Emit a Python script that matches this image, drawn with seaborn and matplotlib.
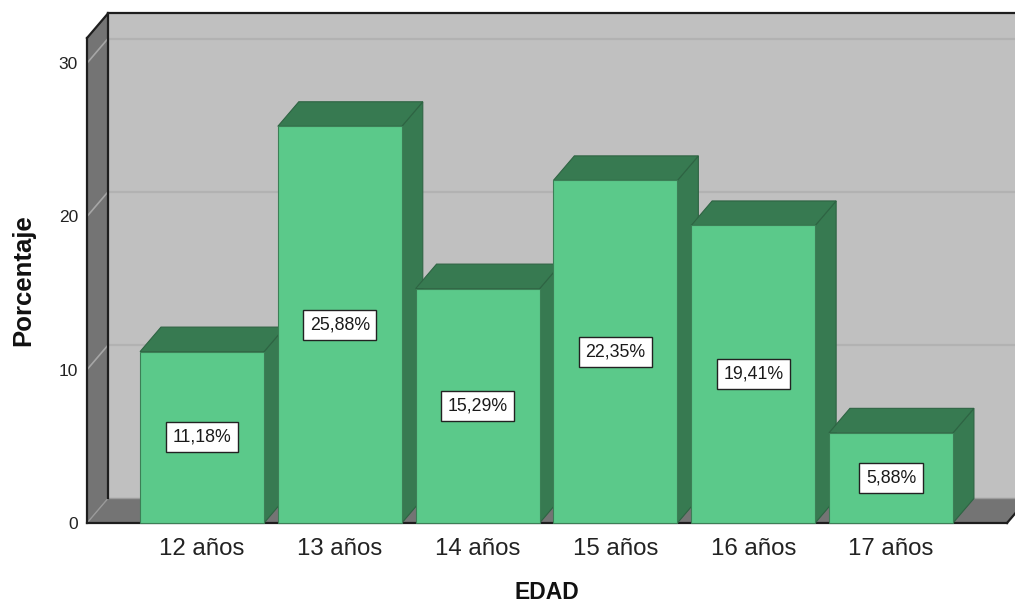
import matplotlib
matplotlib.use("Agg")
import matplotlib.pyplot as plt
from matplotlib.patches import Polygon
from matplotlib.lines import Line2D
import pandas as pd
import seaborn as sns

# Distribución por edad
edades = ["12 años", "13 años", "14 años", "15 años", "16 años", "17 años"]
porcentajes = [11.18, 25.88, 15.29, 22.35, 19.41, 5.88]
y_ticks = [0, 10, 20, 30]

sns.set_theme(style="white")
plt.rcParams["font.family"] = ["Liberation Sans", "DejaVu Sans"]

FRONT = "#5BC98A"
SHADE = "#377A51"
WALL = "#C0C0C0"
SIDE = "#747474"
GRID_BACK = "#B2B2B2"
GRID_SIDE = "#A6A6A6"
EDGE = "#1E1E1E"

df = pd.DataFrame({"EDAD": edades, "Porcentaje": porcentajes})

fig = plt.figure(figsize=(10.15, 6.07), dpi=100)
ax = fig.add_axes([87 / 1015, 84 / 607, 920 / 1015, 485 / 607])
ax.set_facecolor("none")

sns.barplot(data=df, x="EDAD", y="Porcentaje", color=FRONT, width=0.9,
            saturation=1, ax=ax, zorder=20)

xmin, xmax = -0.835, 5.842
ymax = 31.64
ax.set_xlim(xmin, xmax)
ax.set_ylim(0, ymax)

# depth of the 3D box, in data units
dx, dy = 0.152, 1.6

# back wall with gridlines
ax.add_patch(Polygon([(xmin + dx, dy), (xmax + dx + 1, dy), (xmax + dx + 1, ymax + dy),
                      (xmin + dx, ymax + dy)], closed=True, fc=WALL, ec="none",
                     clip_on=False, zorder=1))
for v in y_ticks[1:]:
    ax.add_line(Line2D([xmin + dx, xmax + dx + 1], [v + dy, v + dy], color=GRID_BACK,
                       lw=1.6, clip_on=False, zorder=2))
    ax.add_line(Line2D([xmin, xmin + dx], [v, v + dy], color=GRID_SIDE,
                       lw=1.2, clip_on=False, zorder=4))

# left wall and floor
ax.add_patch(Polygon([(xmin, 0), (xmin + dx, dy), (xmin + dx, ymax + dy), (xmin, ymax)],
                     closed=True, fc=SIDE, ec="none", clip_on=False, zorder=3))
ax.add_patch(Polygon([(xmin, 0), (xmax, 0), (xmax + dx, dy), (xmin + dx, dy)],
                     closed=True, fc=SIDE, ec="none", clip_on=False, zorder=3))
ax.add_line(Line2D([xmin, xmin + dx], [0, dy], color="#9A9A9A", lw=1,
                   clip_on=False, zorder=4))
ax.add_line(Line2D([xmin + dx, xmax + dx + 1], [dy, dy], color="#9C9C9C", lw=1,
                   clip_on=False, zorder=4))

# box outline
outline = [
    ([xmin, xmin], [0, ymax]),
    ([xmin, xmin + dx], [ymax, ymax + dy]),
    ([xmin + dx, xmax + dx + 1], [ymax + dy, ymax + dy]),
    ([xmin + dx, xmin + dx], [dy, ymax + dy]),
    ([xmin, xmax], [0, 0]),
    ([xmax, xmax + dx], [0, dy]),
]
for xs, ys in outline:
    ax.add_line(Line2D(xs, ys, color=EDGE, lw=1.6, clip_on=False, zorder=5,
                       solid_capstyle="projecting"))

# 3D faces of the bars
bars = [p for p in ax.patches if p.get_zorder() == 20]
for i, (bar, val) in enumerate(zip(bars, porcentajes)):
    x0 = bar.get_x()
    w = bar.get_width()
    h = val
    z = 10 + 3 * i
    side = Polygon([(x0 + w, 0), (x0 + w + dx, dy), (x0 + w + dx, h + dy), (x0 + w, h)],
                   closed=True, fc=SHADE, ec="#2E6443", lw=0.8, zorder=z, clip_on=False)
    top = Polygon([(x0, h), (x0 + dx, h + dy), (x0 + w + dx, h + dy), (x0 + w, h)],
                  closed=True, fc=SHADE, ec="#2E6443", lw=0.8, zorder=z, clip_on=False)
    ax.add_patch(side)
    ax.add_patch(top)
    bar.set_zorder(z + 1)
    bar.set_edgecolor("#3C7F56")
    bar.set_linewidth(0.8)
    bar.set_clip_on(False)
    ax.text(x0 + w / 2, h / 2, f"{val:.2f}%".replace(".", ","), ha="center",
            va="center", fontsize=12.8, color="#1A1A1A", zorder=z + 2,
            bbox=dict(boxstyle="square,pad=0.36", fc="white", ec="#222222", lw=1))

sns.despine(ax=ax, left=True, bottom=True)
ax.grid(False)
ax.set_yticks(y_ticks)
ax.set_yticklabels([str(t) for t in y_ticks])
ax.tick_params(axis="y", length=0, pad=6.5, labelsize=12.5, labelcolor="#222222")
ax.tick_params(axis="x", length=0, pad=11, labelsize=17.3, labelcolor="#222222")

ax.set_xlabel("EDAD", fontsize=16.5, fontweight="bold", color="#111111")
ax.xaxis.set_label_coords(0.5, -0.144)
ax.xaxis.label.set_va("center")
ax.set_ylabel("Porcentaje", fontsize=18.5, fontweight="bold", color="#111111")
ax.yaxis.set_label_coords(-0.0696, 0.5)
ax.yaxis.label.set_va("center")

fig.savefig("out.png", dpi=100, facecolor="white")
